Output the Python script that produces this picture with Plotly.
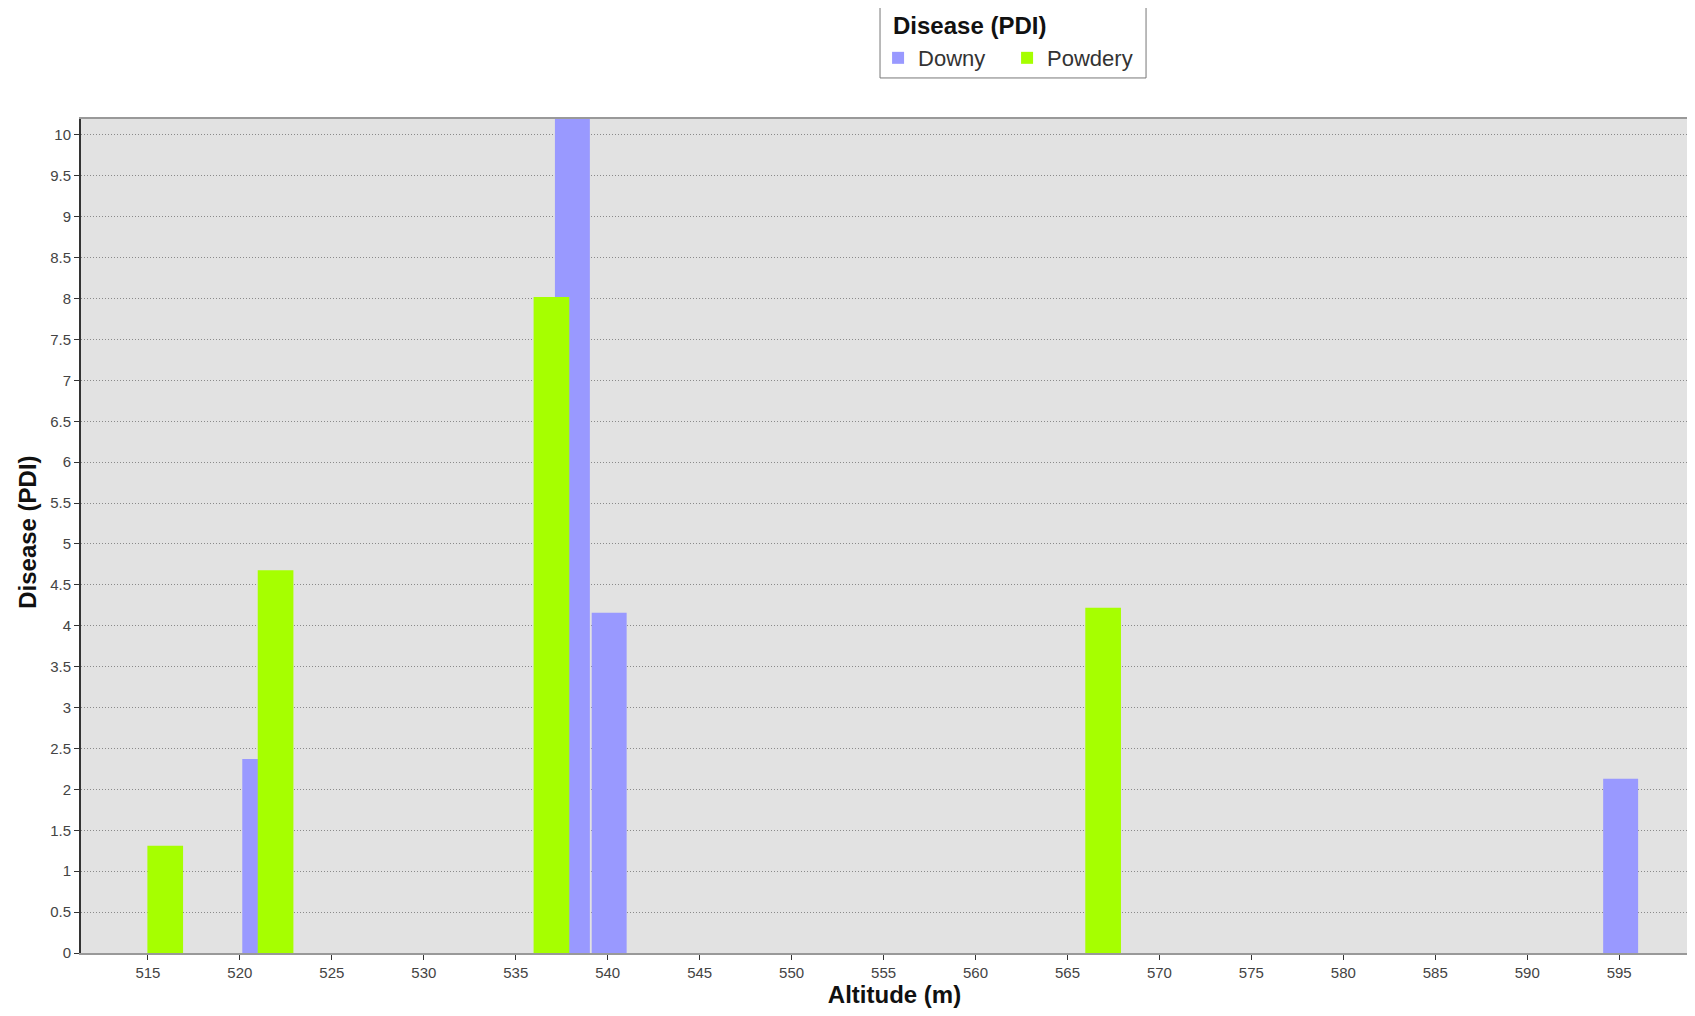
import plotly.graph_objects as go

# Data
downy_alt = [521, 538, 540, 595]
downy_pdi = [2.37, 10.8, 4.16, 2.13]
powdery_alt = [516, 522, 537, 567]
powdery_pdi = [1.31, 4.68, 8.02, 4.22]
x_ticks = list(range(515, 600, 5))
y_ticks = [i * 0.5 for i in range(0, 21)]
y_ticktext = [("%g" % v) for v in y_ticks]

fig = go.Figure()
fig.add_trace(go.Bar(
    x=downy_alt, y=downy_pdi, name="Downy",
    marker=dict(color="#9999FF", line=dict(width=0)),
    width=1.9, offset=-0.87,
))
fig.add_trace(go.Bar(
    x=powdery_alt, y=powdery_pdi, name="Powdery",
    marker=dict(color="#A6FF00", line=dict(width=0)),
    width=1.94, offset=-1.03,
))

fig.update_layout(
    width=1700, height=1000,
    margin=dict(l=73, r=0, t=111, b=54.5, autoexpand=False),
    paper_bgcolor="white",
    plot_bgcolor="#E2E2E2",
    barmode="overlay",
    font=dict(family="Liberation Sans, Arial, sans-serif", color="#222"),
    legend=dict(
        orientation="h",
        x=0.4899, xanchor="left",
        y=1.0731, yanchor="middle",
        bgcolor="rgba(0,0,0,0)",
        borderwidth=0,
        font=dict(size=22, color="#333"),
        traceorder="normal",
        entrywidth=84,
    ),
    showlegend=True,
    annotations=[
        dict(
            text="<b>Disease (PDI)</b>", xref="paper", yref="paper",
            x=0.4979, y=1.1127, xanchor="left", yanchor="middle",
            showarrow=False, font=dict(size=24, color="#111"),
        ),
        dict(
            text="<b>Disease (PDI)</b>", xref="paper", yref="paper",
            x=-0.0326, y=0.505, xanchor="center", yanchor="middle",
            textangle=-90, showarrow=False, font=dict(size=24, color="#111"),
        ),
    ],
    shapes=[dict(
        type="rect", xref="paper", yref="paper",
        x0=0.4911, x1=0.6546, y0=1.0492, y1=1.1349,
        line=dict(color="#777", width=1), fillcolor="rgba(0,0,0,0)",
    )],
)

fig.update_xaxes(
    range=[511.36, 599.83],
    tickmode="array", tickvals=x_ticks,
    ticktext=[str(v) for v in x_ticks],
    ticks="outside", ticklen=5, tickcolor="#333", tickwidth=1,
    tickfont=dict(size=15, color="#444"),
    showgrid=False, zeroline=False,
    showline=True, linecolor="#999", linewidth=2, mirror=True,
    automargin=False,
    title=dict(text="<b>Altitude (m)</b>", font=dict(size=24, color="#111"), standoff=6),
)
fig.update_yaxes(
    range=[0, 10.195],
    tickmode="array", tickvals=y_ticks, ticktext=y_ticktext,
    ticks="outside", ticklen=5, tickcolor="#333", tickwidth=1,
    tickfont=dict(size=15, color="#444"),
    showgrid=True, gridcolor="#8a8a8a", gridwidth=1, griddash="1px,2px",
    zeroline=False,
    showline=True, linecolor="#333", linewidth=2,
    automargin=False,
)

fig.write_html("out.html")
